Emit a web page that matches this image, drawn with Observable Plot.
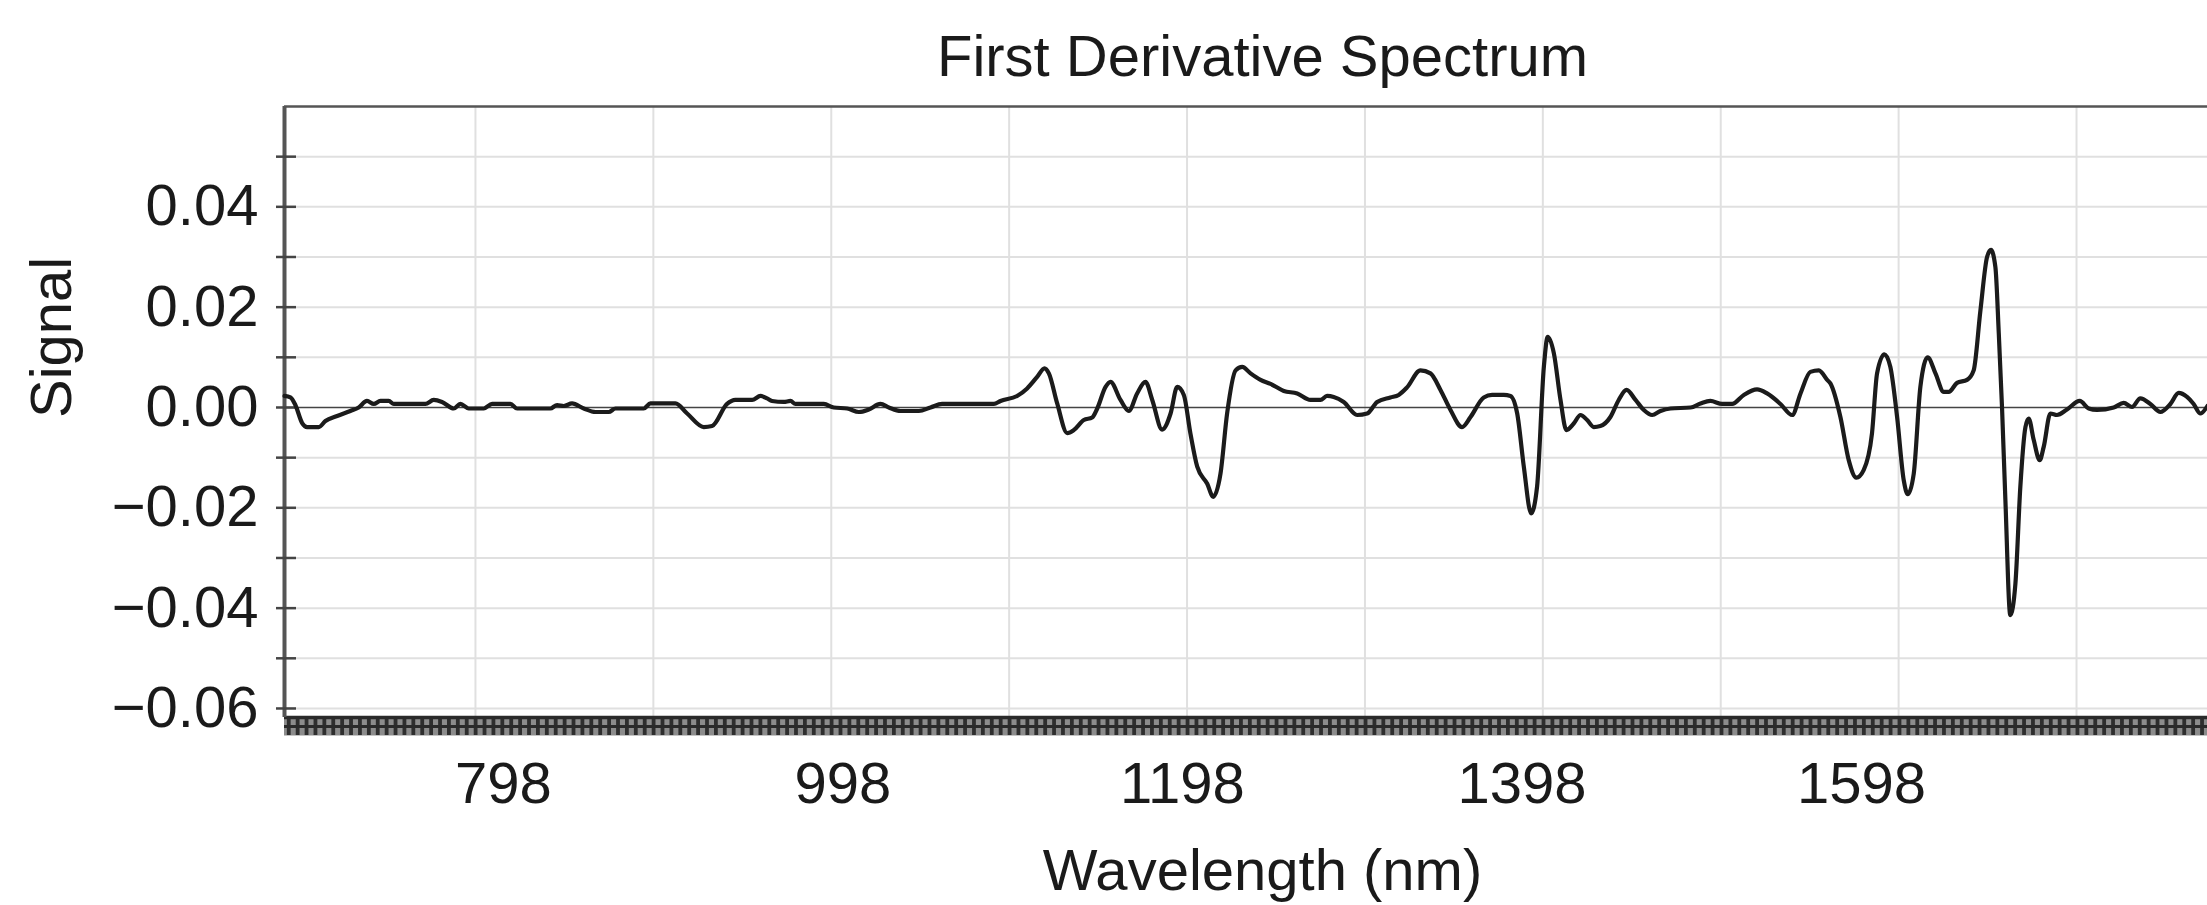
<!DOCTYPE html>
<html>
<head>
<meta charset="utf-8">
<script src="https://cdn.jsdelivr.net/npm/d3@7"></script>
<script src="https://cdn.jsdelivr.net/npm/@observablehq/plot@0.6"></script>
<style>
  html, body { margin: 0; padding: 0; background: #fff; overflow: hidden; }
  #chart svg { display: block; max-width: none !important; width: 2240px !important; height: 905px !important; }
</style>
</head>
<body>
<div id="chart"></div>
<script>
// ---- Data ----
const wavelength = [
  669.0, 672.5, 675.4, 679.4, 682.3, 689.2, 693.1, 700.0, 707.8, 712.7,
  717.6, 721.6, 725.5, 730.4, 733.4, 743.2, 752.0, 756.9, 761.8, 768.7,
  772.6, 777.5, 786.4, 791.3, 802.1, 806.0, 825.6, 829.6, 833.5, 838.4,
  845.3, 852.2, 860.0, 864.0, 880.6, 884.6, 899.3, 906.2, 916.0, 920.9,
  929.7, 934.6, 944.5, 949.4, 953.3, 956.2, 963.1,
  967.1, 970.0, 986.7, 992.6, 1000.5, 1007.4, 1013.2, 1020.1, 1025.0, 1031.9,
  1042.7, 1049.6, 1056.4, 1086.9, 1090.8, 1100.6, 1106.5, 1112.4, 1116.7, 1119.3,
  1124.2, 1130.1, 1134.0, 1139.9, 1144.8, 1147.8, 1152.7, 1155.6, 1161.5, 1166.4,
  1171.3, 1176.2, 1180.2, 1186.0, 1191.0, 1194.9, 1198.8, 1202.7, 1206.7, 1212.6,
  1216.1, 1220.4, 1224.3, 1229.3, 1233.2, 1238.1, 1244.0, 1249.9, 1257.7, 1265.6,
  1273.4,
  1279.3, 1283.2, 1287.1, 1293.0, 1300.9, 1306.8, 1312.7, 1320.5, 1325.4, 1330.3,
  1338.2, 1344.1, 1350.0, 1355.9, 1362.7, 1367.7, 1375.5, 1380.4, 1387.3, 1391.2,
  1395.2, 1399.1, 1403.4, 1406.9, 1410.9, 1413.2, 1416.8, 1420.7, 1424.2, 1428.5,
  1432.5, 1436.4, 1440.3, 1444.2, 1450.1, 1455.0, 1459.6, 1464.9, 1469.8, 1474.7,
  1479.6, 1485.5, 1497.3, 1503.2, 1509.0, 1515.9, 1521.8, 1528.7, 1536.5, 1542.4,
  1550.3, 1557.2, 1562.1, 1567.9, 1572.9, 1577.8,
  1579.7, 1585.6, 1590.5, 1595.0, 1599.3, 1604.2, 1607.2, 1611.5, 1615.0, 1619.0,
  1622.9, 1625.3, 1628.8, 1632.7, 1637.0, 1641.6, 1646.5, 1649.4, 1654.3, 1660.2,
  1664.1, 1668.1, 1672.0, 1674.3, 1676.9, 1678.9, 1680.8, 1682.8, 1685.7, 1688.7,
  1691.6, 1694.6, 1696.5, 1699.5, 1703.0, 1705.4, 1709.3, 1713.2, 1719.1, 1726.6,
  1731.9, 1736.8, 1746.6, 1752.5, 1757.4, 1762.3, 1768.2, 1774.1, 1780.0, 1784.9,
  1789.8, 1793.7, 1797.7, 1801.8
];
const signal = [
  0.0023, 0.0020, 0.0005, -0.0031, -0.0039, -0.0039, -0.0027, -0.0017, -0.0007, 0.0000,
  0.0013, 0.0007, 0.0013, 0.0013, 0.0007, 0.0007, 0.0007, 0.0015, 0.0011, -0.0002,
  0.0007, -0.0002, -0.0002, 0.0007, 0.0007, -0.0002, -0.0002, 0.0005, 0.0003, 0.0008,
  -0.0002, -0.0009, -0.0009, -0.0002, -0.0002, 0.0008, 0.0008, -0.0012, -0.0039, -0.0037,
  0.0007, 0.0015, 0.0015, 0.0023, 0.0018, 0.0013, 0.0011,
  0.0013, 0.0007, 0.0007, 0.0000, -0.0002, -0.0009, -0.0004, 0.0007, 0.0000, -0.0007,
  -0.0007, 0.0000, 0.0007, 0.0007, 0.0013, 0.0023, 0.0038, 0.0061, 0.0078, 0.0068,
  0.0008, -0.0051, -0.0045, -0.0025, -0.0020, -0.0002, 0.0041, 0.0051, 0.0015, -0.0007,
  0.0028, 0.0051, 0.0015, -0.0044, -0.0012, 0.0041, 0.0025, -0.0052, -0.0118, -0.0152,
  -0.0178, -0.0132, -0.0012, 0.0074, 0.0081, 0.0068, 0.0055, 0.0047, 0.0033, 0.0028,
  0.0015,
  0.0015, 0.0023, 0.0021, 0.0011, -0.0015, -0.0012, 0.0011, 0.0020, 0.0025, 0.0040,
  0.0074, 0.0068, 0.0035, -0.0005, -0.0039, -0.0019, 0.0020, 0.0025, 0.0025, 0.0023,
  -0.0012, -0.0118, -0.0211, -0.0158, 0.0081, 0.0141, 0.0108, 0.0015, -0.0045, -0.0032,
  -0.0015, -0.0025, -0.0039, -0.0037, -0.0019, 0.0015, 0.0035, 0.0015, -0.0005, -0.0015,
  -0.0007, -0.0002, 0.0000, 0.0008, 0.0013, 0.0007, 0.0007, 0.0025, 0.0036, 0.0028,
  0.0007, -0.0015, 0.0028, 0.0071, 0.0074, 0.0055,
  0.0048, -0.0019, -0.0105, -0.0140, -0.0125, -0.0052, 0.0068, 0.0106, 0.0081, -0.0019,
  -0.0145, -0.0173, -0.0132, 0.0041, 0.0100, 0.0068, 0.0031, 0.0031, 0.0049, 0.0055,
  0.0074, 0.0194, 0.0300, 0.0314, 0.0280, 0.0148, 0.0001, -0.0185, -0.0414, -0.0351,
  -0.0158, -0.0039, -0.0022, -0.0065, -0.0105, -0.0078, -0.0012, -0.0015, -0.0004, 0.0013,
  -0.0002, -0.0005, 0.0000, 0.0009, 0.0001, 0.0018, 0.0007, -0.0009, 0.0007, 0.0029,
  0.0021, 0.0007, -0.0012, 0.0003
];

// Axis / grid values
const yLabelTicks = [-0.06, -0.04, -0.02, 0, 0.02, 0.04];
const yMinorTicks = [-0.06, -0.05, -0.04, -0.03, -0.02, -0.01, 0, 0.01, 0.02, 0.03, 0.04, 0.05];
const yGridLines  = [-0.06, -0.05, -0.04, -0.03, -0.02, -0.01, 0.01, 0.02, 0.03, 0.04, 0.05];
const xLabelTicks = [798, 998, 1198, 1398, 1598];
const xGridLines  = [781.5, 886.3, 991.1, 1095.9, 1200.7, 1305.5, 1410.3, 1515.1, 1619.9, 1724.7];
const xDomain = [669, 1821.3];
const yDomain = [-0.0618, 0.06];
const hatchTicks = d3.range(671.5, 1822, 5.2425);

const data = wavelength.map((w, i) => ({w, s: signal[i]}));

const FONT = "'Liberation Sans', Arial, Helvetica, sans-serif";
const TEXT = "#1a1a1a";

const chart = Plot.plot({
  width: 2240,
  height: 905,
  marginLeft: 284,
  marginRight: 0,
  marginTop: 106,
  marginBottom: 188,
  style: {fontFamily: FONT, fontSize: "58px", color: TEXT, background: "#fff", maxWidth: "none"},
  x: {domain: xDomain, axis: null},
  y: {domain: yDomain, axis: null},
  marks: [
    // grid
    Plot.ruleY(yGridLines, {stroke: "#e0e0e0", strokeWidth: 2}),
    Plot.ruleX(xGridLines, {stroke: "#e0e0e0", strokeWidth: 2}),
    // zero line and top frame
    Plot.ruleY([0], {stroke: "#444", strokeWidth: 1.6}),
    Plot.ruleY([yDomain[1]], {stroke: "#555", strokeWidth: 2.5}),
    // hatched x axis band
    Plot.ruleY([-0.0636], {stroke: "#8c8c8c", strokeWidth: 18}),
    Plot.axisX({ticks: hatchTicks, tickSize: 18, tickFormat: () => "", stroke: "#2e2e2e", strokeWidth: 3.8, label: null}),
    Plot.ruleY([-0.0636], {stroke: "#2a2a2a", strokeWidth: 3}),
    Plot.ruleY([yDomain[0]], {stroke: "#2a2a2a", strokeWidth: 3.5}),
    // y axis line and ticks
    Plot.ruleX([xDomain[0]], {stroke: "#555", strokeWidth: 4}),
    Plot.axisY({ticks: yMinorTicks, tickSize: 20, dx: 12, tickFormat: () => "", stroke: "#444", strokeWidth: 2.5, label: null}),
    Plot.axisY({ticks: yLabelTicks, tickSize: 0, tickPadding: 26, tickFormat: ".2f", fontSize: 58, fill: TEXT, label: null}),
    // x tick labels
    Plot.axisX({ticks: xLabelTicks, tickSize: 0, tickPadding: 44, tickFormat: "d", fontSize: 58, fill: TEXT, label: null}),
    // spectrum
    Plot.line(data, {x: "w", y: "s", stroke: "#1b1b1b", strokeWidth: 4.2, curve: "monotone-x", strokeLinejoin: "round"}),
    // titles
    Plot.text(["First Derivative Spectrum"], {frameAnchor: "top", lineAnchor: "bottom", dy: -31, fontSize: 58, fill: TEXT}),
    Plot.text(["Wavelength (nm)"], {frameAnchor: "bottom", lineAnchor: "bottom", dy: 172, fontSize: 58, fill: TEXT}),
    Plot.text(["Signal"], {frameAnchor: "left", lineAnchor: "bottom", rotate: -90, dx: -214, dy: 6, fontSize: 58, fill: TEXT})
  ]
});

document.getElementById("chart").appendChild(chart);
</script>
</body>
</html>
